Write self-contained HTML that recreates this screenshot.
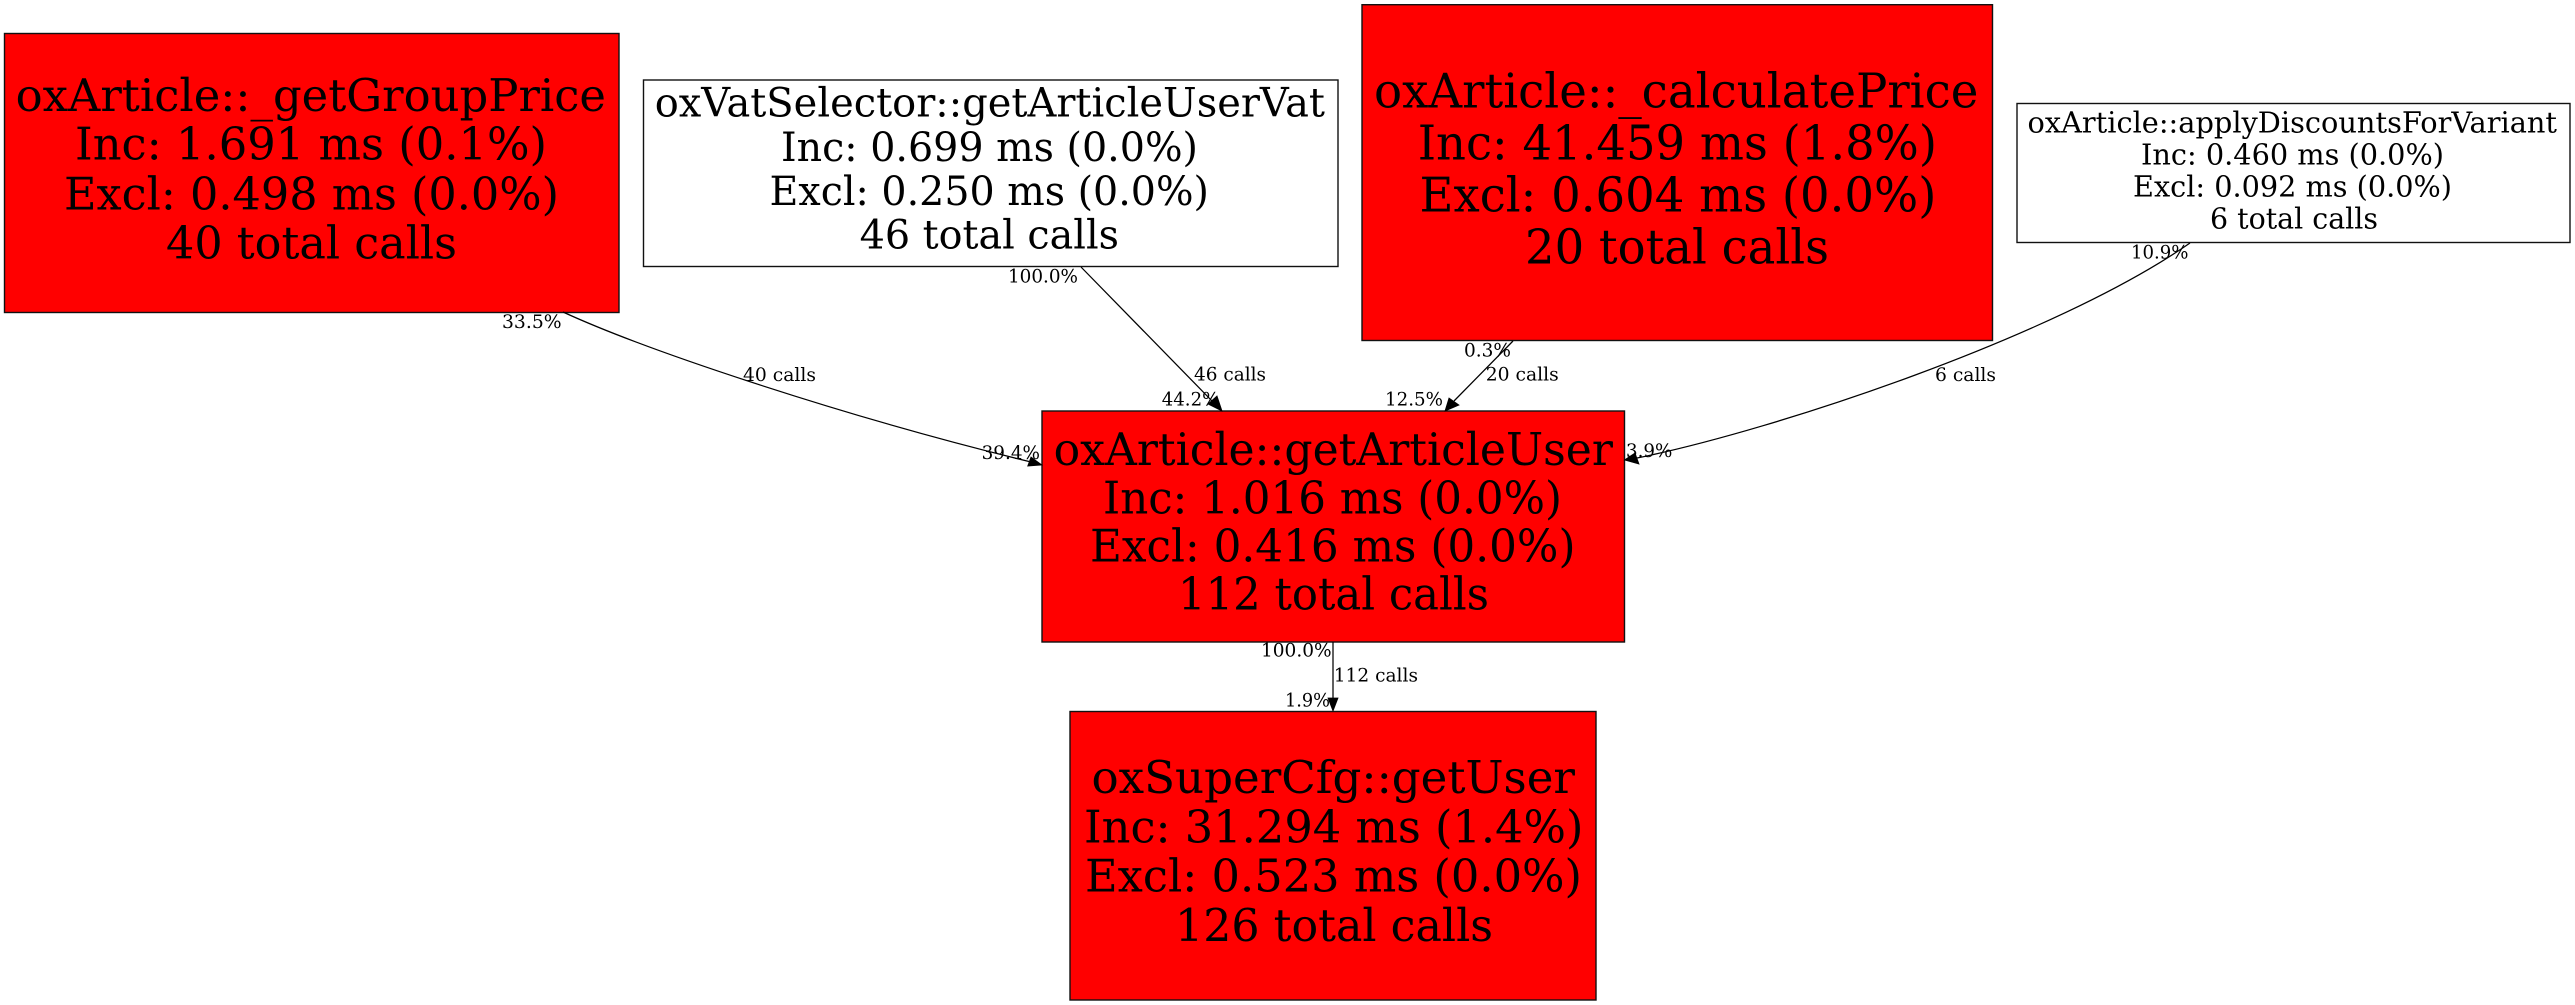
<!DOCTYPE html>
<html>
<head>
<meta charset="utf-8">
<style>
html,body{margin:0;padding:0;background:#fff;width:2575px;height:1005px;overflow:hidden}
svg{display:block}
text{font-family:"DejaVu Serif","Liberation Serif",serif;fill:#000}
.s{font-size:19px}
</style>
</head>
<body>
<svg width="2575" height="1005" viewBox="0 0 2575 1005" xmlns="http://www.w3.org/2000/svg">
<rect width="2575" height="1005" fill="#fff"/>
<g stroke="#111" stroke-width="1.4">
<rect x="4.5" y="33.5" width="614.5" height="279" fill="#f00"/>
<rect x="643.5" y="80" width="694.5" height="186.5" fill="#fff"/>
<rect x="1362" y="4.7" width="630.5" height="335.8" fill="#f00"/>
<rect x="2017" y="103.5" width="553" height="139" fill="#fff"/>
<rect x="1042" y="411" width="582.5" height="231" fill="#f00"/>
<rect x="1070" y="711.5" width="526" height="288.5" fill="#f00"/>
</g>
<g fill="none" stroke="#000" stroke-width="1.25">
<path d="M563,312 C650,352 850,418 1029,461.5"/>
<path d="M1081,267 L1213,402"/>
<path d="M1513,341 L1454,401"/>
<path d="M2190,243 C2055,337 1775,430 1637,458"/>
<path d="M1333,642 L1333,698"/>
</g>
<g fill="#000" stroke="#000" stroke-width="0.8">
<polygon points="1042,465 1027.7,466 1031,457"/>
<polygon points="1222,411 1208,404 1217,396"/>
<polygon points="1445,411 1449,398 1459,405"/>
<polygon points="1624.5,460 1635,453 1639,464"/>
<polygon points="1333,711 1328,698 1338,698"/>
</g>

<g style="font-size:45px">
<text x="15.6" y="111" textLength="590.4" lengthAdjust="spacingAndGlyphs">oxArticle::_getGroupPrice</text>
<text x="75" y="159.7" textLength="472" lengthAdjust="spacingAndGlyphs">Inc: 1.691 ms (0.1%)</text>
<text x="64" y="209.3" textLength="495" lengthAdjust="spacingAndGlyphs">Excl: 0.498 ms (0.0%)</text>
<text x="166" y="258.3" textLength="291" lengthAdjust="spacingAndGlyphs">40 total calls</text>
</g>
<g style="font-size:40.5px">
<text x="654.7" y="116.7" textLength="670.3" lengthAdjust="spacingAndGlyphs">oxVatSelector::getArticleUserVat</text>
<text x="781" y="161" textLength="417" lengthAdjust="spacingAndGlyphs">Inc: 0.699 ms (0.0%)</text>
<text x="769.5" y="205" textLength="439.5" lengthAdjust="spacingAndGlyphs">Excl: 0.250 ms (0.0%)</text>
<text x="859.6" y="248.7" textLength="259.4" lengthAdjust="spacingAndGlyphs">46 total calls</text>
</g>
<g style="font-size:47.7px">
<text x="1374" y="107.3" textLength="604.4" lengthAdjust="spacingAndGlyphs">oxArticle::_calculatePrice</text>
<text x="1417.7" y="159.3" textLength="519.3" lengthAdjust="spacingAndGlyphs">Inc: 41.459 ms (1.8%)</text>
<text x="1419.5" y="211.3" textLength="516.9" lengthAdjust="spacingAndGlyphs">Excl: 0.604 ms (0.0%)</text>
<text x="1525" y="263.3" textLength="304" lengthAdjust="spacingAndGlyphs">20 total calls</text>
</g>
<g style="font-size:29px">
<text x="2027.5" y="132.7" textLength="529.5" lengthAdjust="spacingAndGlyphs">oxArticle::applyDiscountsForVariant</text>
<text x="2141" y="164.7" textLength="303" lengthAdjust="spacingAndGlyphs">Inc: 0.460 ms (0.0%)</text>
<text x="2133" y="196.7" textLength="319" lengthAdjust="spacingAndGlyphs">Excl: 0.092 ms (0.0%)</text>
<text x="2210" y="228.3" textLength="168" lengthAdjust="spacingAndGlyphs">6 total calls</text>
</g>
<g style="font-size:44.5px">
<text x="1053.6" y="465" textLength="559.4" lengthAdjust="spacingAndGlyphs">oxArticle::getArticleUser</text>
<text x="1103" y="513.3" textLength="459" lengthAdjust="spacingAndGlyphs">Inc: 1.016 ms (0.0%)</text>
<text x="1090" y="561.7" textLength="485.5" lengthAdjust="spacingAndGlyphs">Excl: 0.416 ms (0.0%)</text>
<text x="1178" y="609.3" textLength="311" lengthAdjust="spacingAndGlyphs">112 total calls</text>
</g>
<g style="font-size:45px">
<text x="1091.5" y="793" textLength="483.5" lengthAdjust="spacingAndGlyphs">oxSuperCfg::getUser</text>
<text x="1084" y="842.7" textLength="499.5" lengthAdjust="spacingAndGlyphs">Inc: 31.294 ms (1.4%)</text>
<text x="1085" y="891.7" textLength="497" lengthAdjust="spacingAndGlyphs">Excl: 0.523 ms (0.0%)</text>
<text x="1175" y="941" textLength="318" lengthAdjust="spacingAndGlyphs">126 total calls</text>
</g>

<g class="s">
<text class="s" x="502" y="328" textLength="59.6" lengthAdjust="spacingAndGlyphs">33.5%</text>
<text class="s" x="1008" y="282.3" textLength="70" lengthAdjust="spacingAndGlyphs">100.0%</text>
<text class="s" x="1194" y="380.7" textLength="72" lengthAdjust="spacingAndGlyphs">46 calls</text>
<text class="s" x="1161.7" y="405.7" textLength="57.7" lengthAdjust="spacingAndGlyphs">44.2%</text>
<text class="s" x="1385" y="405.7" textLength="58" lengthAdjust="spacingAndGlyphs">12.5%</text>
<text class="s" x="1464" y="356.7" textLength="47" lengthAdjust="spacingAndGlyphs">0.3%</text>
<text class="s" x="1485.7" y="380.7" textLength="73" lengthAdjust="spacingAndGlyphs">20 calls</text>
<text class="s" x="981.6" y="459" textLength="58.4" lengthAdjust="spacingAndGlyphs">39.4%</text>
<text class="s" x="1626" y="457" textLength="46.4" lengthAdjust="spacingAndGlyphs">3.9%</text>
<text class="s" x="1261" y="656.7" textLength="70.6" lengthAdjust="spacingAndGlyphs">100.0%</text>
<text class="s" x="1333.7" y="681.7" textLength="84.3" lengthAdjust="spacingAndGlyphs">112 calls</text>
<text class="s" x="1285" y="706.7" textLength="45" lengthAdjust="spacingAndGlyphs">1.9%</text>
<text class="s" x="2131" y="258.3" textLength="57.5" lengthAdjust="spacingAndGlyphs">10.9%</text>
<text class="s" x="743" y="381" textLength="73" lengthAdjust="spacingAndGlyphs">40 calls</text>
<text class="s" x="1935" y="381" textLength="61" lengthAdjust="spacingAndGlyphs">6 calls</text>
</g>
</svg>
</body>
</html>
